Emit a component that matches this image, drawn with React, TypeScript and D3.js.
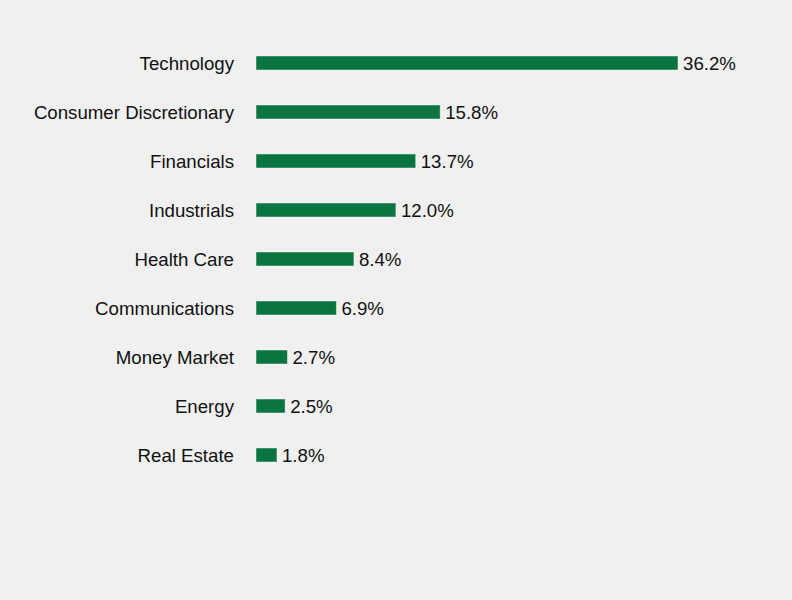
import React from "react";
import * as d3 from "d3";

const categories = [
  "Technology",
  "Consumer Discretionary",
  "Financials",
  "Industrials",
  "Health Care",
  "Communications",
  "Money Market",
  "Energy",
  "Real Estate",
];
const values = [36.2, 15.8, 13.7, 12.0, 8.4, 6.9, 2.7, 2.5, 1.8];
const labels = ["36.2%", "15.8%", "13.7%", "12.0%", "8.4%", "6.9%", "2.7%", "2.5%", "1.8%"];

export default function App() {
  const W = 792, H = 600;
  const x0 = 256;
  const x = d3.scaleLinear().domain([0, 36.2]).range([x0, 678]);
  const y = d3.scaleBand().domain(categories).range([38.5, 479.5]).paddingInner(0.714).paddingOuter(0.357);
  const font = "'Liberation Sans', Arial, sans-serif";
  const fs = 18.67;
  return (
    <svg width={W} height={H} style={{ position: "absolute", left: 0, top: 0, background: "#f0f0f0" }}>
      <rect x={0} y={0} width={W} height={H} fill="#f0f0f0" />
      {categories.map((c, i) => {
        const yy = y(c)!;
        const bw = y.bandwidth();
        const cy = yy + bw / 2;
        return (
          <g key={c}>
            <rect x={x(0)} y={yy} width={x(values[i]) - x(0)} height={bw} fill="#0b7542" stroke="#ffffff" strokeOpacity={0.45} strokeWidth={1} />
            <text x={234} y={cy} textAnchor="end" dominantBaseline="central" fontFamily={font} fontSize={fs} fill="#111">
              {c}
            </text>
            <text x={x(values[i]) + 5} y={cy} textAnchor="start" dominantBaseline="central" fontFamily={font} fontSize={fs} fill="#111">
              {labels[i]}
            </text>
          </g>
        );
      })}
    </svg>
  );
}
